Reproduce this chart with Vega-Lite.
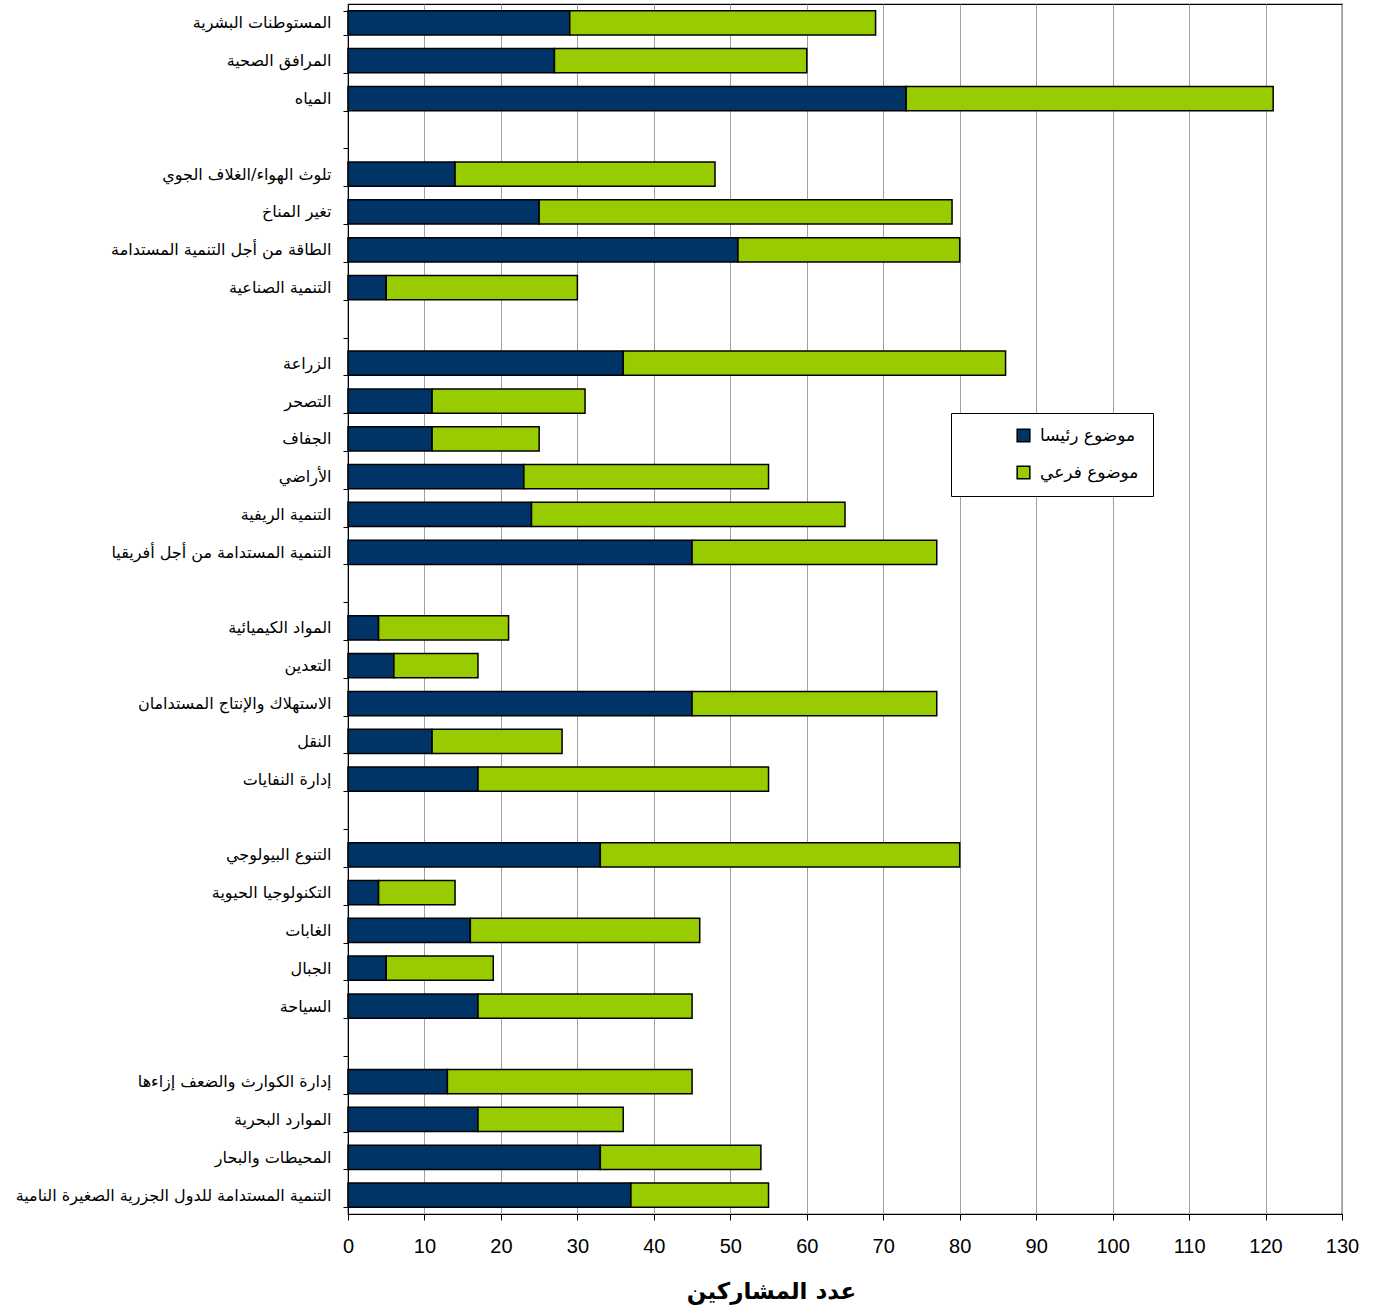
{
  "$schema": "https://vega.github.io/schema/vega-lite/v6.json",
  "autosize": "none",
  "width": 994,
  "height": 1210,
  "padding": {"left": 348, "top": 4, "right": 35, "bottom": 94},
  "background": "white",
  "config": {
    "view": {"stroke": "black", "strokeWidth": 1.2},
    "axis": {"labelColor": "black", "titleColor": "black"}
  },
  "data": {
    "values": [
      {"topic": "المستوطنات البشرية", "type": "موضوع رئيسا", "value": 29, "ord": 1},
      {"topic": "المستوطنات البشرية", "type": "موضوع فرعي", "value": 40, "ord": 2},
      {"topic": "المرافق الصحية", "type": "موضوع رئيسا", "value": 27, "ord": 1},
      {"topic": "المرافق الصحية", "type": "موضوع فرعي", "value": 33, "ord": 2},
      {"topic": "المياه", "type": "موضوع رئيسا", "value": 73, "ord": 1},
      {"topic": "المياه", "type": "موضوع فرعي", "value": 48, "ord": 2},
      {"topic": "تلوث الهواء/الغلاف الجوي", "type": "موضوع رئيسا", "value": 14, "ord": 1},
      {"topic": "تلوث الهواء/الغلاف الجوي", "type": "موضوع فرعي", "value": 34, "ord": 2},
      {"topic": "تغير المناخ", "type": "موضوع رئيسا", "value": 25, "ord": 1},
      {"topic": "تغير المناخ", "type": "موضوع فرعي", "value": 54, "ord": 2},
      {"topic": "الطاقة من أجل التنمية المستدامة", "type": "موضوع رئيسا", "value": 51, "ord": 1},
      {"topic": "الطاقة من أجل التنمية المستدامة", "type": "موضوع فرعي", "value": 29, "ord": 2},
      {"topic": "التنمية الصناعية", "type": "موضوع رئيسا", "value": 5, "ord": 1},
      {"topic": "التنمية الصناعية", "type": "موضوع فرعي", "value": 25, "ord": 2},
      {"topic": "الزراعة", "type": "موضوع رئيسا", "value": 36, "ord": 1},
      {"topic": "الزراعة", "type": "موضوع فرعي", "value": 50, "ord": 2},
      {"topic": "التصحر", "type": "موضوع رئيسا", "value": 11, "ord": 1},
      {"topic": "التصحر", "type": "موضوع فرعي", "value": 20, "ord": 2},
      {"topic": "الجفاف", "type": "موضوع رئيسا", "value": 11, "ord": 1},
      {"topic": "الجفاف", "type": "موضوع فرعي", "value": 14, "ord": 2},
      {"topic": "الأراضي", "type": "موضوع رئيسا", "value": 23, "ord": 1},
      {"topic": "الأراضي", "type": "موضوع فرعي", "value": 32, "ord": 2},
      {"topic": "التنمية الريفية", "type": "موضوع رئيسا", "value": 24, "ord": 1},
      {"topic": "التنمية الريفية", "type": "موضوع فرعي", "value": 41, "ord": 2},
      {"topic": "التنمية المستدامة من أجل أفريقيا", "type": "موضوع رئيسا", "value": 45, "ord": 1},
      {"topic": "التنمية المستدامة من أجل أفريقيا", "type": "موضوع فرعي", "value": 32, "ord": 2},
      {"topic": "المواد الكيميائية", "type": "موضوع رئيسا", "value": 4, "ord": 1},
      {"topic": "المواد الكيميائية", "type": "موضوع فرعي", "value": 17, "ord": 2},
      {"topic": "التعدين", "type": "موضوع رئيسا", "value": 6, "ord": 1},
      {"topic": "التعدين", "type": "موضوع فرعي", "value": 11, "ord": 2},
      {"topic": "الاستهلاك والإنتاج المستدامان", "type": "موضوع رئيسا", "value": 45, "ord": 1},
      {"topic": "الاستهلاك والإنتاج المستدامان", "type": "موضوع فرعي", "value": 32, "ord": 2},
      {"topic": "النقل", "type": "موضوع رئيسا", "value": 11, "ord": 1},
      {"topic": "النقل", "type": "موضوع فرعي", "value": 17, "ord": 2},
      {"topic": "إدارة النفايات", "type": "موضوع رئيسا", "value": 17, "ord": 1},
      {"topic": "إدارة النفايات", "type": "موضوع فرعي", "value": 38, "ord": 2},
      {"topic": "التنوع البيولوجي", "type": "موضوع رئيسا", "value": 33, "ord": 1},
      {"topic": "التنوع البيولوجي", "type": "موضوع فرعي", "value": 47, "ord": 2},
      {"topic": "التكنولوجيا الحيوية", "type": "موضوع رئيسا", "value": 4, "ord": 1},
      {"topic": "التكنولوجيا الحيوية", "type": "موضوع فرعي", "value": 10, "ord": 2},
      {"topic": "الغابات", "type": "موضوع رئيسا", "value": 16, "ord": 1},
      {"topic": "الغابات", "type": "موضوع فرعي", "value": 30, "ord": 2},
      {"topic": "الجبال", "type": "موضوع رئيسا", "value": 5, "ord": 1},
      {"topic": "الجبال", "type": "موضوع فرعي", "value": 14, "ord": 2},
      {"topic": "السياحة", "type": "موضوع رئيسا", "value": 17, "ord": 1},
      {"topic": "السياحة", "type": "موضوع فرعي", "value": 28, "ord": 2},
      {"topic": "إدارة الكوارث والضعف إزاءها", "type": "موضوع رئيسا", "value": 13, "ord": 1},
      {"topic": "إدارة الكوارث والضعف إزاءها", "type": "موضوع فرعي", "value": 32, "ord": 2},
      {"topic": "الموارد البحرية", "type": "موضوع رئيسا", "value": 17, "ord": 1},
      {"topic": "الموارد البحرية", "type": "موضوع فرعي", "value": 19, "ord": 2},
      {"topic": "المحيطات والبحار", "type": "موضوع رئيسا", "value": 33, "ord": 1},
      {"topic": "المحيطات والبحار", "type": "موضوع فرعي", "value": 21, "ord": 2},
      {"topic": "التنمية المستدامة للدول الجزرية الصغيرة النامية", "type": "موضوع رئيسا", "value": 37, "ord": 1},
      {"topic": "التنمية المستدامة للدول الجزرية الصغيرة النامية", "type": "موضوع فرعي", "value": 18, "ord": 2}
    ]
  },
  "mark": {"type": "bar", "stroke": "black", "strokeWidth": 1.5},
  "encoding": {
    "y": {
      "field": "topic",
      "type": "nominal",
      "sort": null,
      "scale": {
        "domain": [
          "المستوطنات البشرية", "المرافق الصحية", "المياه", "gap1",
          "تلوث الهواء/الغلاف الجوي", "تغير المناخ", "الطاقة من أجل التنمية المستدامة", "التنمية الصناعية", "gap2",
          "الزراعة", "التصحر", "الجفاف", "الأراضي", "التنمية الريفية", "التنمية المستدامة من أجل أفريقيا", "gap3",
          "المواد الكيميائية", "التعدين", "الاستهلاك والإنتاج المستدامان", "النقل", "إدارة النفايات", "gap4",
          "التنوع البيولوجي", "التكنولوجيا الحيوية", "الغابات", "الجبال", "السياحة", "gap5",
          "إدارة الكوارث والضعف إزاءها", "الموارد البحرية", "المحيطات والبحار", "التنمية المستدامة للدول الجزرية الصغيرة النامية"
        ],
        "paddingInner": 0.36,
        "paddingOuter": 0.18
      },
      "axis": {
        "title": null,
        "labelExpr": "indexof(datum.label, 'gap') == 0 ? '' : datum.label",
        "labelFont": "DejaVu Sans",
        "labelFontSize": 16,
        "labelLimit": 400,
        "labelPadding": 12,
        "tickBand": "extent",
        "tickSize": 5,
        "tickColor": "black",
        "domainColor": "black",
        "grid": false
      }
    },
    "x": {
      "field": "value",
      "type": "quantitative",
      "stack": "zero",
      "scale": {"domain": [0, 130], "nice": false},
      "axis": {
        "title": "عدد المشاركين",
        "titleFont": "DejaVu Sans",
        "titleFontSize": 23,
        "titleFontWeight": "bold",
        "titleX": 423,
        "titlePadding": 24,
        "values": [0, 10, 20, 30, 40, 50, 60, 70, 80, 90, 100, 110, 120, 130],
        "labelFont": "Liberation Sans",
        "labelFontSize": 20,
        "labelPadding": 16,
        "labelFlush": false,
        "labelOverlap": false,
        "tickSize": 6,
        "tickColor": "black",
        "domainColor": "black",
        "grid": true,
        "gridColor": "#a0a0a0",
        "gridWidth": 1
      }
    },
    "color": {
      "field": "type",
      "type": "nominal",
      "scale": {"domain": ["موضوع رئيسا", "موضوع فرعي"], "range": ["#003366", "#99cc00"]},
      "legend": {
        "title": null,
        "orient": "none",
        "legendX": 603,
        "legendY": 409,
        "direction": "vertical",
        "fillColor": "white",
        "strokeColor": "black",
        "padding": 14,
        "symbolType": "square",
        "symbolSize": 160,
        "symbolStrokeColor": "black",
        "symbolStrokeWidth": 1.5,
        "symbolOffset": 50,
        "labelFont": "DejaVu Sans",
        "labelFontSize": 17,
        "labelColor": "black",
        "labelOffset": 8,
        "labelLimit": 300,
        "rowPadding": 18
      }
    },
    "order": {"field": "ord", "type": "quantitative"}
  }
}
